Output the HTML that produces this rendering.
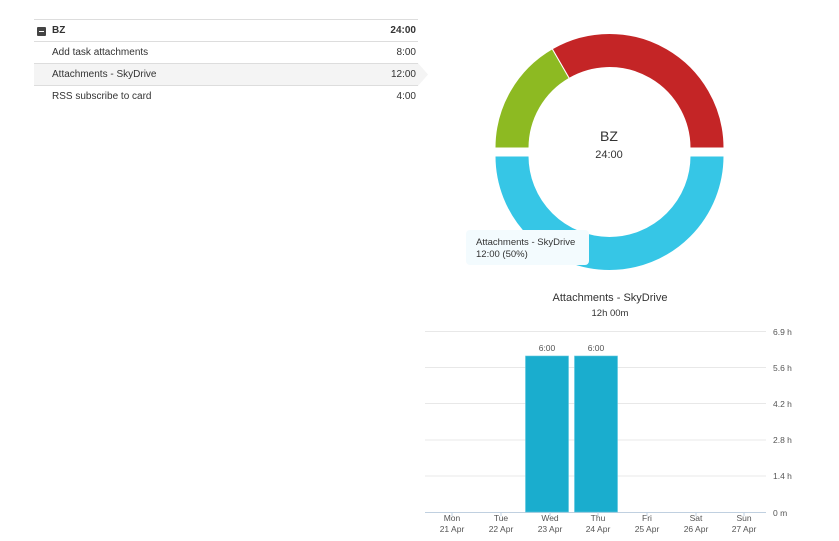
<!DOCTYPE html>
<html><head><style>
body{margin:0;width:839px;height:541px;background:#fff;font-family:"Liberation Sans",sans-serif;position:relative;overflow:hidden}
.row{position:absolute;left:34px;width:384px;height:22px;border-top:1px solid #ddd;font-size:10px;color:#333;line-height:22px}
.row span{position:absolute;right:2px}
</style></head><body>
<div class="row" style="top:19px;font-weight:bold"><div style="position:absolute;left:3px;top:7px;width:9px;height:9px;background:#444;border-radius:1px"><div style="position:absolute;left:2px;top:4px;width:5px;height:1px;background:#fff"></div></div><div style="position:absolute;left:18px">BZ</div><span>24:00</span></div>
<div class="row" style="top:41px"><div style="position:absolute;left:18px">Add task attachments</div><span>8:00</span></div>
<div class="row" style="top:63px;background:#f4f4f4"><div style="position:absolute;left:18px">Attachments - SkyDrive</div><span>12:00</span></div>
<div class="row" style="top:85px"><div style="position:absolute;left:18px">RSS subscribe to card</div><span>4:00</span></div>
<svg style="position:absolute;left:418px;top:63px" width="12" height="23"><polygon points="0,0 10,11.5 0,23" fill="#f4f4f4"/></svg>
<svg width="839" height="541" style="position:absolute;left:0;top:0" font-family="Liberation Sans, sans-serif">
<g stroke="#fff" stroke-width="1">
<path d="M495,148 A114.5,114.5 0 0 1 552.25,48.8 L569.25,78.3 A80.5,80.5 0 0 0 529,148 Z" fill="#8dba22"/>
<path d="M552.25,48.8 A114.5,114.5 0 0 1 724,148 L690,148 A80.5,80.5 0 0 0 569.25,78.3 Z" fill="#c42526"/>
<path d="M495,156 A114.5,114.5 0 0 0 724,156 L690,156 A80.5,80.5 0 0 1 529,156 Z" fill="#36c6e6"/>
</g>
<text x="609" y="141" font-size="14" fill="#333" text-anchor="middle">BZ</text>
<text x="609" y="158" font-size="11" fill="#333" text-anchor="middle">24:00</text>
<rect x="466" y="230" width="123" height="35" rx="4" fill="#f3fbfe"/>
<text x="476" y="245" font-size="9.5" fill="#333">Attachments - SkyDrive</text>
<text x="476" y="257" font-size="9.5" fill="#333">12:00 (50%)</text>
<text x="610" y="301" font-size="11" fill="#333" text-anchor="middle">Attachments - SkyDrive</text>
<text x="610" y="316" font-size="9.5" fill="#333" text-anchor="middle">12h 00m</text>
<g stroke="#e8e8e8" stroke-width="1">
<line x1="425" x2="766" y1="331.5" y2="331.5"/><line x1="425" x2="766" y1="367.5" y2="367.5"/><line x1="425" x2="766" y1="403.5" y2="403.5"/><line x1="425" x2="766" y1="440" y2="440"/><line x1="425" x2="766" y1="476" y2="476"/>
</g>
<line x1="425" x2="766" y1="512.5" y2="512.5" stroke="#c0d0e0"/>
<g font-size="8.5" fill="#555">
<text x="773" y="335">6.9 h</text><text x="773" y="371">5.6 h</text><text x="773" y="407">4.2 h</text><text x="773" y="443">2.8 h</text><text x="773" y="479">1.4 h</text><text x="773" y="516">0 m</text>
</g>
<rect x="525.5" y="356" width="43" height="156" fill="#1aadce" stroke="#5cc6de" stroke-width="0.6"/>
<rect x="574.5" y="356" width="43" height="156" fill="#1aadce" stroke="#5cc6de" stroke-width="0.6"/>
<g font-size="8.5" fill="#555" text-anchor="middle">
<text x="547" y="351">6:00</text><text x="596" y="351">6:00</text>
<text x="452" y="521">Mon</text><text x="452" y="532">21 Apr</text>
<text x="501" y="521">Tue</text><text x="501" y="532">22 Apr</text>
<text x="550" y="521">Wed</text><text x="550" y="532">23 Apr</text>
<text x="598" y="521">Thu</text><text x="598" y="532">24 Apr</text>
<text x="647" y="521">Fri</text><text x="647" y="532">25 Apr</text>
<text x="696" y="521">Sat</text><text x="696" y="532">26 Apr</text>
<text x="744" y="521">Sun</text><text x="744" y="532">27 Apr</text>
</g>
<g stroke="#c0d0e0"><line x1="452" x2="452" y1="512" y2="516"/><line x1="501" x2="501" y1="512" y2="516"/><line x1="550" x2="550" y1="512" y2="516"/><line x1="598" x2="598" y1="512" y2="516"/><line x1="647" x2="647" y1="512" y2="516"/><line x1="696" x2="696" y1="512" y2="516"/><line x1="744" x2="744" y1="512" y2="516"/></g>
</svg>
</body></html>
